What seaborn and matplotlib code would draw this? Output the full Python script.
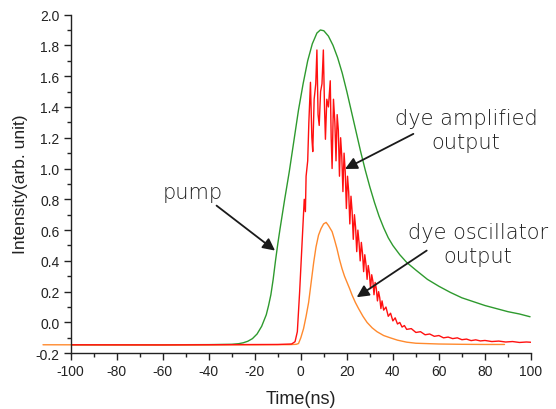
import numpy as np
import pandas as pd
import seaborn as sns
import matplotlib.pyplot as plt
from matplotlib.ticker import MultipleLocator

# pump pulse (green)
pump_t = [-100, -60, -40, -30, -27, -25, -23, -21, -19, -17, -15, -14, -13, -12, -11, -10, -9,
          -7, -5, -3, -1, 1, 3, 5, 7, 8.5, 10, 12, 14, 16, 18, 20, 22, 24, 26, 28, 30, 32, 34,
          36, 38, 40, 43, 46, 50, 55, 60, 65, 70, 75, 80, 85, 90, 95, 99.6]
pump_i = [-0.145, -0.145, -0.144, -0.142, -0.138, -0.132, -0.122, -0.105, -0.075, -0.025, 0.05,
          0.11, 0.18, 0.28, 0.40, 0.51, 0.61, 0.80, 0.98, 1.18, 1.38, 1.55, 1.70, 1.81, 1.88,
          1.90, 1.895, 1.86, 1.80, 1.72, 1.62, 1.50, 1.37, 1.24, 1.11, 0.99, 0.88, 0.78, 0.69,
          0.615, 0.55, 0.50, 0.44, 0.39, 0.34, 0.28, 0.235, 0.195, 0.16, 0.135, 0.11, 0.09, 0.07,
          0.055, 0.037]

# dye amplified output (red)
amp_t = [-100, -60, -30, -10, -4, -2.5, -1.5, -0.5, 0.5, 1.5, 2.0, 2.3, 3.0, 3.5, 4.2, 4.8, 5.2,
         5.8, 6.5, 7.0, 7.5, 8.0, 8.6, 9.2, 9.8, 10.3, 10.7, 11.3, 12.0, 12.8, 13.2, 13.6, 14.2,
         14.8, 15.3, 15.8, 16.3, 16.8, 17.3, 17.8, 18.3, 18.8, 19.3, 19.8, 20.3, 20.8, 21.3, 21.8,
         22.3, 22.8, 23.3, 23.8, 24.3, 24.8, 25.3, 25.8, 26.3, 26.8, 27.3, 27.8, 28.3, 28.8, 29.3,
         29.8, 30.3, 30.8, 31.3, 31.8, 32.3, 32.8, 33.3, 33.8, 34.3, 34.8, 35.3, 36, 37, 38, 39,
         40, 41, 42, 43, 44, 45, 46, 48, 50, 52, 54, 56, 58, 60, 62, 64, 66, 68, 70, 72, 74, 76,
         78, 80, 83, 86, 89, 92, 95, 98, 101.5]
amp_i = [-0.145, -0.146, -0.144, -0.143, -0.14, -0.125, -0.06, 0.2, 0.5, 0.8, 0.72, 0.95, 1.05,
         1.3, 1.56, 1.2, 1.11, 1.45, 1.55, 1.77, 1.35, 1.28, 1.5, 1.55, 1.77, 1.4, 1.19, 1.45, 1.4,
         1.57, 1.2, 1.0, 1.45, 1.3, 1.05, 1.35, 1.25, 0.95, 1.2, 1.08, 0.85, 1.1, 0.98, 0.74, 0.95,
         0.85, 0.64, 0.82, 0.72, 0.54, 0.7, 0.62, 0.46, 0.6, 0.52, 0.4, 0.52, 0.45, 0.33, 0.44,
         0.38, 0.28, 0.37, 0.32, 0.22, 0.31, 0.27, 0.18, 0.26, 0.22, 0.14, 0.2, 0.16, 0.09, 0.14,
         0.08, 0.1, 0.04, 0.06, 0.01, 0.03, -0.01, 0.0, -0.03, -0.02, -0.045, -0.04, -0.065, -0.06,
         -0.08, -0.075, -0.09, -0.085, -0.1, -0.095, -0.105, -0.1, -0.112, -0.108, -0.118, -0.113,
         -0.12, -0.117, -0.124, -0.121, -0.127, -0.124, -0.13, -0.127, -0.13]

# dye oscillator output (orange)
osc_t = [-112, -60, -20, -5, -2, -1, 0, 1.2, 2.3, 3.4, 4.5, 5.6, 6.6, 7.7, 8.8, 9.9, 11.0, 12.0,
         13.6, 14.6, 15.7, 16.8, 17.9, 19.0, 20.1, 21.2, 22.3, 23.7, 25.1, 27.0, 28.8, 31.0, 33.1,
         36, 38.9, 42, 46, 50, 60, 70, 80, 88.5]
osc_i = [-0.145, -0.146, -0.145, -0.144, -0.142, -0.137, -0.1, -0.04, 0.04, 0.13, 0.26, 0.39,
         0.49, 0.567, 0.61, 0.64, 0.65, 0.63, 0.59, 0.54, 0.48, 0.41, 0.35, 0.30, 0.26, 0.22,
         0.177, 0.13, 0.09, 0.04, 0.0, -0.035, -0.06, -0.085, -0.10, -0.115, -0.128, -0.135,
         -0.14, -0.142, -0.143, -0.143]

sns.set_style("ticks")
plt.rcParams['font.family'] = ['Liberation Sans', 'DejaVu Sans']
plt.rcParams['axes.unicode_minus'] = False

fig = plt.figure(figsize=(5.56, 4.10), dpi=100)
ax = fig.add_axes([0.127, 0.136, 0.828, 0.826])

sns.lineplot(x=pump_t, y=pump_i, color='#2e9a2e', lw=1.0, ax=ax)
sns.lineplot(x=osc_t, y=osc_i, color='#ff8a2e', lw=1.0, ax=ax)
ax.lines[-1].set_clip_on(False)
sns.lineplot(x=amp_t, y=amp_i, color='#ff1010', lw=1.0, ax=ax)

ax.set_xlim(-100, 100)
ax.set_ylim(-0.2, 2.0)
ax.xaxis.set_major_locator(MultipleLocator(20))
ax.xaxis.set_minor_locator(MultipleLocator(10))
ax.yaxis.set_major_locator(MultipleLocator(0.2))
ax.yaxis.set_minor_locator(MultipleLocator(0.1))
ax.xaxis.set_major_formatter(plt.FuncFormatter(lambda v, p: f"{v:.0f}"))
ax.yaxis.set_major_formatter(plt.FuncFormatter(lambda v, p: f"{v:.1f}"))
ax.tick_params(which='major', direction='out', length=5, width=1, color='#222222',
               labelsize=10, labelcolor='#222222', pad=3)
ax.tick_params(which='minor', direction='out', length=3, width=1, color='#222222')
sns.despine(ax=ax)
for s in ['left', 'bottom']:
    ax.spines[s].set_color('#222222')
    ax.spines[s].set_linewidth(1)

ax.set_xlabel('Time(ns)', fontsize=13, color='#222222')
ax.set_ylabel('Intensity(arb. unit)', fontsize=12.5, color='#222222')
ax.xaxis.set_label_coords(0.5, -0.108)
ax.yaxis.set_label_coords(-0.093, 0.503)

# labels and arrows
txt = dict(family='DejaVu Sans', fontweight='light', fontsize=15, color='#1e1e1e', ha='center')
arr = dict(arrowstyle='-|>', color='#1a1a1a', lw=1.3, mutation_scale=18, shrinkA=0, shrinkB=0)

ax.text(-46.9, 0.809, 'pump', va='baseline', **txt)
ax.annotate('', xy=(-11.2, 0.467), xytext=(-36.6, 0.759), arrowprops=arr)

ax.text(71.8, 1.251, 'dye amplified\noutput', va='center', multialignment='center',
        linespacing=1.25, **txt)
ax.annotate('', xy=(19.2, 0.997), xytext=(48.9, 1.225), arrowprops=arr)

ax.text(77.0, 0.51, 'dye oscillator\noutput', va='center', multialignment='center',
        linespacing=1.25, clip_on=False, **txt)
ax.annotate('', xy=(24.3, 0.164), xytext=(54.7, 0.467), arrowprops=arr)

fig.savefig('out.png', dpi=100)
